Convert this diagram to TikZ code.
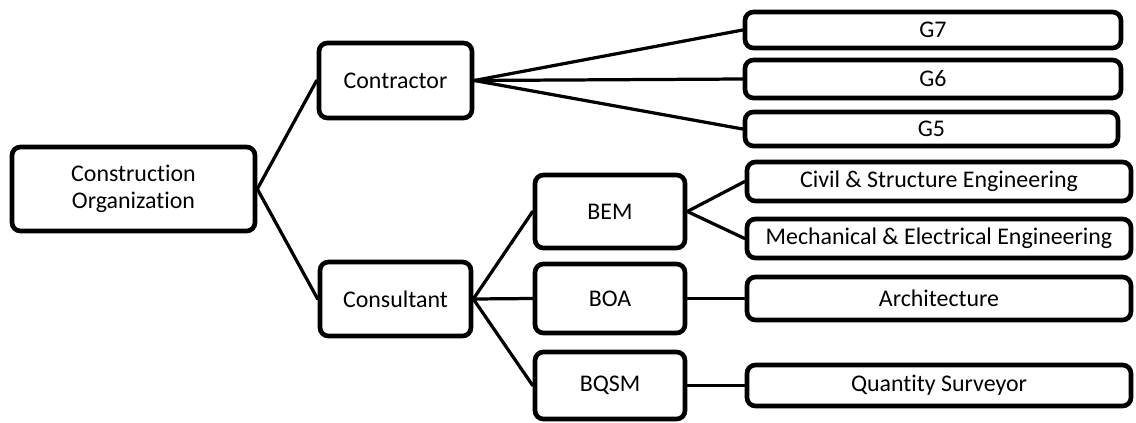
\documentclass[tikz,border=0pt]{standalone}
\usepackage{fontspec}
\setmainfont{Carlito}[Ligatures=NoCommon]
\usepackage{tikz}
\usetikzlibrary{positioning}
\tikzset{%
  orgbox/.style args={#1 and #2}{draw,line width=3.3pt,rounded corners=6pt,align=center,
    inner sep=0pt,minimum width=#1 cm,minimum height=#2 cm,font=\fontsize{17}{19}\selectfont},
  link/.style={line width=2.3pt,line cap=round}
}

\begin{document}
\begin{tikzpicture}[scale=1]

        \useasboundingbox (0,0) rectangle (28.4,10.55); % Page

        % Root and first level
        \node[orgbox=6.075 and 2.1] (org) at (3.3375,5.825) {Construction\\Organization};
        \node[orgbox=3.825 and 1.875] (contractor) at (9.8875,8.5375) {Contractor};
        \node[orgbox=3.775 and 1.85] (consultant) at (9.8875,3.075) {Consultant};

        % Boards
        \node[orgbox=3.75 and 1.825] (bem) at (15.25,5.2625) {BEM};
        \node[orgbox=3.75 and 1.725] (boa) at (15.25,3.0875) {BOA};
        \node[orgbox=3.75 and 1.675] (bqsm) at (15.25,0.9125) {BQSM};

        % Grades
        \node[orgbox=9.4 and 0.9] (g7) at (23.325,9.8) {G7};
        \node[orgbox=9.4 and 0.95] (g6) at (23.325,8.575) {G6};
        \node[orgbox=9.325 and 0.85] (g5) at (23.2875,7.325) {G5};

        % Disciplines
        \node[orgbox=9.6 and 0.975] (civil) at (23.475,6.0125) {Civil \& Structure Engineering};
        \node[orgbox=9.6 and 0.975] (mech) at (23.475,4.5875) {Mechanical \& Electrical Engineering};
        \node[orgbox=9.6 and 1.075] (arch) at (23.475,3.0875) {Architecture};
        \node[orgbox=9.6 and 1.025] (qs) at (23.475,0.9125) {Quantity Surveyor};

        %%%%Connectors
        \foreach \from/\to in {org/contractor, org/consultant,
            contractor/g7, contractor/g6, contractor/g5,
            consultant/bem, consultant/boa, consultant/bqsm,
            bem/civil, bem/mech, boa/arch, bqsm/qs}
            {
            \draw[link] (\from.east) -- (\to.west);
            }

    \end{tikzpicture}
\end{document}
